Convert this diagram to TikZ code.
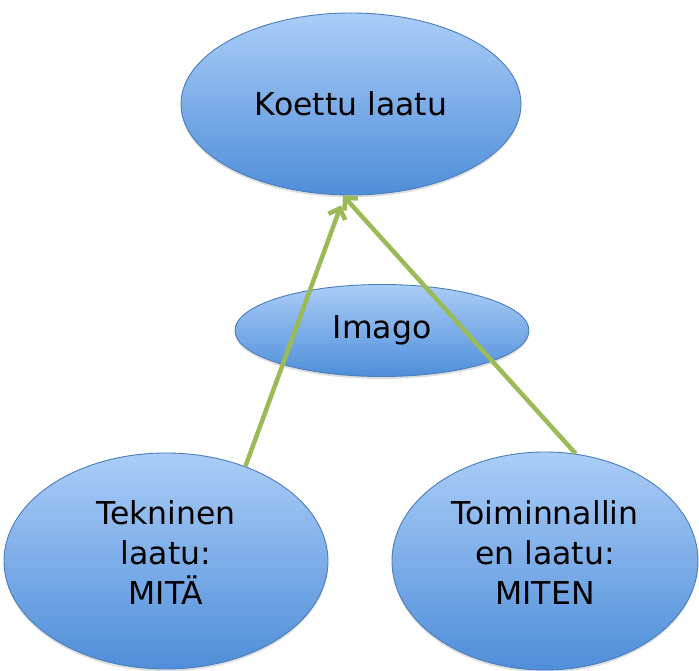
\documentclass[tikz,border=0pt]{standalone}
\usepackage{fontspec}
\setmainfont{DejaVu Sans}
\usetikzlibrary{shapes.geometric,arrows.meta,shadows}
\definecolor{topblue}{HTML}{ABCDF8}
\definecolor{botblue}{HTML}{4F8ED9}
\definecolor{edgeblue}{HTML}{4A7EBB}
\definecolor{arrgreen}{HTML}{9BBB59}
\tikzset{
  bubble/.style={ellipse, draw=edgeblue, line width=0.9pt, top color=topblue, bottom color=botblue,
    inner sep=0pt, align=center, text=black,
    font=\fontsize{31.5}{40}\selectfont,
    drop shadow={opacity=0.25, shadow xshift=0pt, shadow yshift=-2.5pt}},
  arr/.style={draw=arrgreen, line width=4.5pt, -{Straight Barb[length=9pt,width=18pt]}}
}
\begin{document}
\begin{tikzpicture}[x=1pt,y=1pt]
\useasboundingbox (0,0) rectangle (699,671);
\node[bubble, minimum width=340pt, minimum height=182pt] (koe) at (351,567) {Koettu laatu};
\node[bubble, minimum width=294pt, minimum height=92pt] (ima) at (382,340.5) {Imago};
\node[bubble, minimum width=324pt, minimum height=216pt] (tek) at (166,110) {Tekninen\\laatu:\\MITÄ\rule[-16pt]{0pt}{0pt}};
\node[bubble, minimum width=306pt, minimum height=218pt] (toi) at (545,110) {Toiminnallin\\en laatu:\\MITEN\rule[-16pt]{0pt}{0pt}};
\coordinate (tipL) at ([shift={(-10pt,-10pt)}]koe.south);
\coordinate (tipR) at ([shift={(-8pt,0pt)}]koe.south);
\draw[arr] (tek.50) -- (tipL);
\draw[arr] (toi.74) -- (tipR);
\end{tikzpicture}
\end{document}
